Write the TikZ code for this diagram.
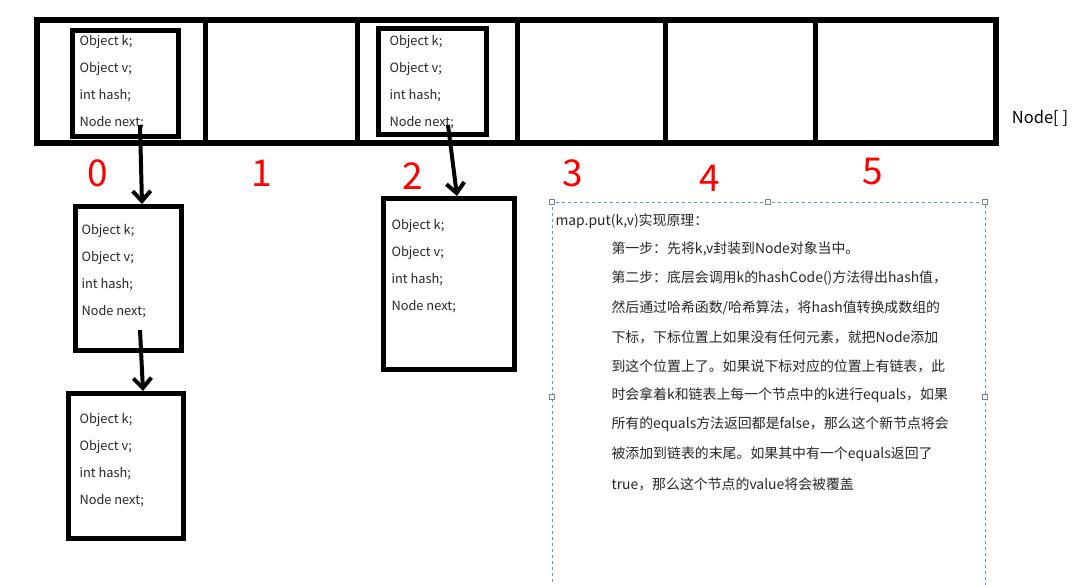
\documentclass[tikz,border=0pt]{standalone}
\usepackage{fontspec}
\setmainfont{Noto Sans CJK SC}
\usetikzlibrary{arrows.meta}
\begin{document}
\begin{tikzpicture}[x=1pt,y=-1pt,
  thickbox/.style={draw=black,line width=5pt},
  idx/.style={text=red,font=\fontsize{37}{37}\selectfont},
  ftxt/.style={anchor=west,font=\fontsize{12.8}{12.8}\selectfont,text=black!85},
  arr/.style={line width=4pt,-{Straight Barb[length=10pt,width=18pt,line width=4pt]}},
  dtxt/.style={anchor=west,font=\fontsize{13.9}{13.9}\selectfont,text=black!85}]
\useasboundingbox (0,0) rectangle (1079,584);
% array
\draw[thickbox,line width=6pt] (37,20) rectangle (996,143);
\foreach \x in {205,357,517,665,815}{\draw[line width=5pt] (\x,20) -- (\x,143);}
% top nodes
\newcommand{\fields}[2]{%
  \node[ftxt] at (#1,#2) {Object k;};
  \node[ftxt] at (#1,#2+27) {Object v;};
  \node[ftxt] at (#1,#2+54) {int hash;};
  \node[ftxt] at (#1,#2+81) {Node next;};}
\node[thickbox,minimum width=106pt,minimum height=106pt] (n0) at (125,83) {};
\fields{76}{42}
\node[thickbox,minimum width=108pt,minimum height=106pt] (n2) at (432,81) {};
\fields{386}{42}
\node[thickbox,minimum width=106pt,minimum height=144pt] (a) at (128.5,278.5) {};
\fields{78}{231}
\node[thickbox,minimum width=115pt,minimum height=145pt] (b) at (126,466) {};
\fields{76}{420}
\node[thickbox,minimum width=131pt,minimum height=171pt] (c) at (449,284) {};
\fields{388}{226}
% indices
\node[idx] at (98,173) {0};
\node[idx] at (262,173) {1};
\node[idx] at (413,176) {2};
\node[idx] at (573,173) {3};
\node[idx] at (710,178) {4};
\node[idx] at (873,172) {5};
\node[font=\fontsize{16.5}{16.5}\selectfont] (lbl) at (1040,118) {Node[ ]};
% arrows
\coordinate (s0) at (140,125); \coordinate (s1) at (140,330); \coordinate (s2) at (448,125);
\draw[arr] (s0) -- (a.north-|142,0);
\draw[arr] (s1) -- (b.north-|143,0);
\draw[arr] (s2) -- (c.north-|457,0);
% text box
\draw[dashed,draw=cyan!60!blue!70,line width=0.8pt] (552,600) -- (552,202) -- (985,202) -- (985,600);
\foreach \x/\y in {552/202,768/202,985/202,552/397,985/397}{\draw[fill=white,draw=gray] (\x-2.5,\y-2.5) rectangle (\x+2.5,\y+2.5);}
\node[dtxt] at (552,221) {map.put(k,v)实现原理：};
\node[dtxt] at (608,249) {第一步：先将k,v封装到Node对象当中。};
\node[dtxt] at (608,278) {第二步：底层会调用k的hashCode()方法得出hash值，};
\node[dtxt] at (608,308) {然后通过哈希函数/哈希算法，将hash值转换成数组的};
\node[dtxt] at (608,337) {下标，下标位置上如果没有任何元素，就把Node添加};
\node[dtxt] at (608,366) {到这个位置上了。如果说下标对应的位置上有链表，此};
\node[dtxt] at (608,395) {时会拿着k和链表上每一个节点中的k进行equals，如果};
\node[dtxt] at (608,424) {所有的equals方法返回都是false，那么这个新节点将会};
\node[dtxt] at (608,454) {被添加到链表的末尾。如果其中有一个equals返回了};
\node[dtxt] at (608,484) {true，那么这个节点的value将会被覆盖};
\end{tikzpicture}
\end{document}
